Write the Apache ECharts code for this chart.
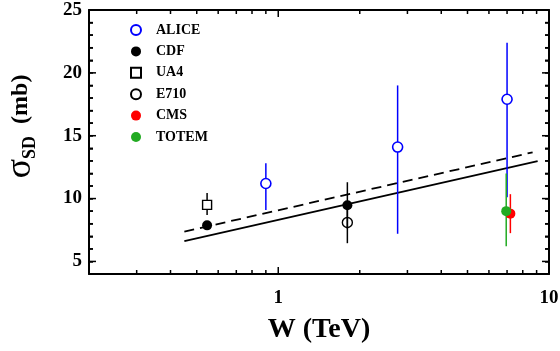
<!DOCTYPE html>
<html><head><meta charset="utf-8">
<script src="https://cdn.jsdelivr.net/npm/echarts@6/dist/echarts.min.js"></script>
<style>html,body{margin:0;padding:0;background:#fff}#c{width:560px;height:351px}</style>
</head><body><div id="c"></div><script>
// ---- data ----
const aliceW = [0.9, 2.76, 7.0];
const aliceS = [11.2, 14.1, 17.9];
const aliceLo = [9.1, 7.2, 10.1];
const aliceHi = [12.8, 19.0, 22.4];

const cdfW = [0.546, 1.8];
const cdfS = [7.87, 9.47];
const cdfLo = [7.6, 7.6];
const cdfHi = [8.15, 11.3];

const ua4W = [0.546];
const ua4S = [9.5];
const ua4Lo = [8.7];
const ua4Hi = [10.45];

const e710W = [1.8];
const e710S = [8.1];
const e710Lo = [6.45];
const e710Hi = [9.8];

const cmsW = [7.2];
const cmsS = [8.8];
const cmsLo = [7.25];
const cmsHi = [10.35];

const totemW = [6.95];
const totemS = [9.0];
const totemLo = [6.2];
const totemHi = [12.0];

const solidW = [0.45, 9.08];
const solidS = [6.62, 12.97];
const dashedW = [0.45, 8.7];
const dashedS = [7.37, 13.68];

const xMin = 0.2, xMax = 10, yMin = 4, yMax = 25;
const xMajorTicks = [1, 10];
const xMinorTicks = [0.3, 0.4, 0.5, 0.6, 0.7, 0.8, 0.9, 2, 3, 4, 5, 6, 7, 8, 9];
const yMajorTicks = [5, 10, 15, 20, 25];
const yMinorTicks = [6, 7, 8, 9, 11, 12, 13, 14, 16, 17, 18, 19, 21, 22, 23, 24];
const legendNames = ['ALICE', 'CDF', 'UA4', 'E710', 'CMS', 'TOTEM'];

// ---- chart ----
const FONT = '"Liberation Serif","Times New Roman",serif';
const pts = (w, s) => w.map((v, i) => [v, s[i]]);
const errs = (w, lo, hi) => w.map((v, i) => [v, lo[i], hi[i]]);

function xAx(pos, labels) {
  return {
    type: 'log', logBase: 10, min: xMin, max: xMax, position: pos,
    axisLine: {show: true, onZero: false, lineStyle: {color: '#000', width: 2}},
    axisTick: {show: false},
    axisLabel: labels ? {show: true, customValues: xMajorTicks, margin: 15, color: '#000',
      fontFamily: FONT, fontWeight: 'bold', fontSize: 19, formatter: v => String(v)} : {show: false},
    splitLine: {show: false}, minorTick: {show: false}, minorSplitLine: {show: false}
  };
}
function yAx(pos, labels) {
  return {
    type: 'value', min: yMin, max: yMax, interval: 1, position: pos,
    axisLine: {show: true, onZero: false, lineStyle: {color: '#000', width: 2}},
    axisTick: {show: true, inside: true, length: 4, lineStyle: {color: '#000', width: 1.5}},
    axisLabel: labels ? {show: true, customValues: yMajorTicks, margin: 7, color: '#000',
      fontFamily: FONT, fontWeight: 'bold', fontSize: 19} : {show: false},
    splitLine: {show: false}
  };
}
const xAxes = [xAx('bottom', true), xAx('top', false)];
xAxes[0].name = 'W (TeV)';
xAxes[0].nameLocation = 'middle';
xAxes[0].nameGap = 42;
xAxes[0].nameTextStyle = {fontFamily: FONT, fontWeight: 'bold', fontSize: 28, color: '#000'};

const yAxes = [yAx('left', true), yAx('right', false)];
yAxes[0].name = '{s|σ}{sub|SD}{m|  (mb)}';
yAxes[0].nameLocation = 'middle';
yAxes[0].nameRotate = 90;
yAxes[0].nameGap = 50;
yAxes[0].nameTextStyle = {
  color: '#000', padding: [0, 0, 0, 31],
  rich: {
    s: {fontFamily: FONT, fontSize: 36, color: '#000'},
    sub: {fontFamily: FONT, fontSize: 18, fontWeight: 'bold', color: '#000', verticalAlign: 'bottom', lineHeight: 12},
    m: {fontFamily: FONT, fontSize: 24, fontWeight: 'bold', color: '#000'}
  }
};

function errSeries(name, data, color) {
  return {
    type: 'custom', name: name, data: data, z: 3, silent: true,
    encode: {x: 0, y: [1, 2]},
    renderItem: function (params, api) {
      const a = api.coord([api.value(0), api.value(1)]);
      const b = api.coord([api.value(0), api.value(2)]);
      return {type: 'line', shape: {x1: a[0], y1: a[1], x2: b[0], y2: b[1]},
        style: {stroke: color, lineWidth: 1.5}};
    }
  };
}
function ptSeries(name, data, symbol, size, fill, border, bw) {
  return {
    type: 'scatter', name: name, data: data, symbol: symbol, symbolSize: size, z: 5,
    itemStyle: {color: fill, borderColor: border, borderWidth: bw, opacity: 1},
    emphasis: {disabled: true}
  };
}

const BLUE = '#0000ff', RED = '#ff0000', GREEN = '#22aa22';

const option = {
  animation: false,
  backgroundColor: '#fff',
  grid: {left: 89, right: 11, top: 10, bottom: 77, containLabel: false, outerBoundsMode: 'none'},
  xAxis: xAxes,
  yAxis: yAxes,
  legend: {
    orient: 'vertical', left: 125, top: 18, itemWidth: 10, itemHeight: 10, itemGap: 7.4,
    selectedMode: false, data: legendNames,
    textStyle: {fontFamily: FONT, fontWeight: 'bold', fontSize: 14, color: '#000', lineHeight: 14, padding: [0, 0, 0, 10]}
  },
  series: [
    {type: 'line', name: 'fit', data: pts(solidW, solidS), showSymbol: false, symbol: 'none', z: 2,
      lineStyle: {color: '#000', width: 1.8}, silent: true},
    {type: 'line', name: 'fit2', data: pts(dashedW, dashedS), showSymbol: false, symbol: 'none', z: 2,
      lineStyle: {color: '#000', width: 1.8, type: [10, 6]}, silent: true},
    errSeries('ALICE err', errs(aliceW, aliceLo, aliceHi), BLUE),
    errSeries('CDF err', errs(cdfW, cdfLo, cdfHi), '#000'),
    errSeries('UA4 err', errs(ua4W, ua4Lo, ua4Hi), '#000'),
    errSeries('E710 err', errs(e710W, e710Lo, e710Hi), '#000'),
    errSeries('TOTEM err', errs(totemW, totemLo, totemHi), GREEN),
    errSeries('CMS err', errs(cmsW, cmsLo, cmsHi), RED),
    ptSeries('ALICE', pts(aliceW, aliceS), 'circle', 10, '#fff', BLUE, 1.6),
    ptSeries('CDF', pts(cdfW, cdfS), 'circle', 10, '#000', '#000', 0),
    ptSeries('UA4', pts(ua4W, ua4S), 'rect', 9, '#fff', '#000', 1.4),
    ptSeries('E710', pts(e710W, e710S), 'circle', 10, 'rgba(255,255,255,0)', '#000', 1.4),
    ptSeries('CMS', pts(cmsW, cmsS), 'circle', 10, RED, RED, 0),
    ptSeries('TOTEM', pts(totemW, totemS), 'circle', 10, GREEN, GREEN, 0)
  ]
};
const chart = echarts.init(document.getElementById('c'), null, {renderer: 'canvas'});
chart.setOption(option);

// tick marks on all four sides, positioned through the chart's own axis scales
const finder = {xAxisIndex: 0, yAxisIndex: 0};
const tickEls = [];
const st = {stroke: '#000', lineWidth: 1.5};
function addX(values, len) {
  values.forEach(v => {
    const b = chart.convertToPixel(finder, [v, yMin]);
    const t = chart.convertToPixel(finder, [v, yMax]);
    tickEls.push({type: 'line', z: 10, silent: true, shape: {x1: b[0], y1: b[1], x2: b[0], y2: b[1] - len}, style: st});
    tickEls.push({type: 'line', z: 10, silent: true, shape: {x1: t[0], y1: t[1], x2: t[0], y2: t[1] + len}, style: st});
  });
}
function addY(values, len) {
  values.forEach(v => {
    const l = chart.convertToPixel(finder, [xMin, v]);
    const r = chart.convertToPixel(finder, [xMax, v]);
    tickEls.push({type: 'line', z: 10, silent: true, shape: {x1: l[0], y1: l[1], x2: l[0] + len, y2: l[1]}, style: st});
    tickEls.push({type: 'line', z: 10, silent: true, shape: {x1: r[0], y1: r[1], x2: r[0] - len, y2: r[1]}, style: st});
  });
}
addX(xMajorTicks, 7);
addX(xMinorTicks, 4);
addY(yMajorTicks, 7);
addY(yMinorTicks, 4);
chart.setOption({graphic: {elements: tickEls}});
</script></body></html>
